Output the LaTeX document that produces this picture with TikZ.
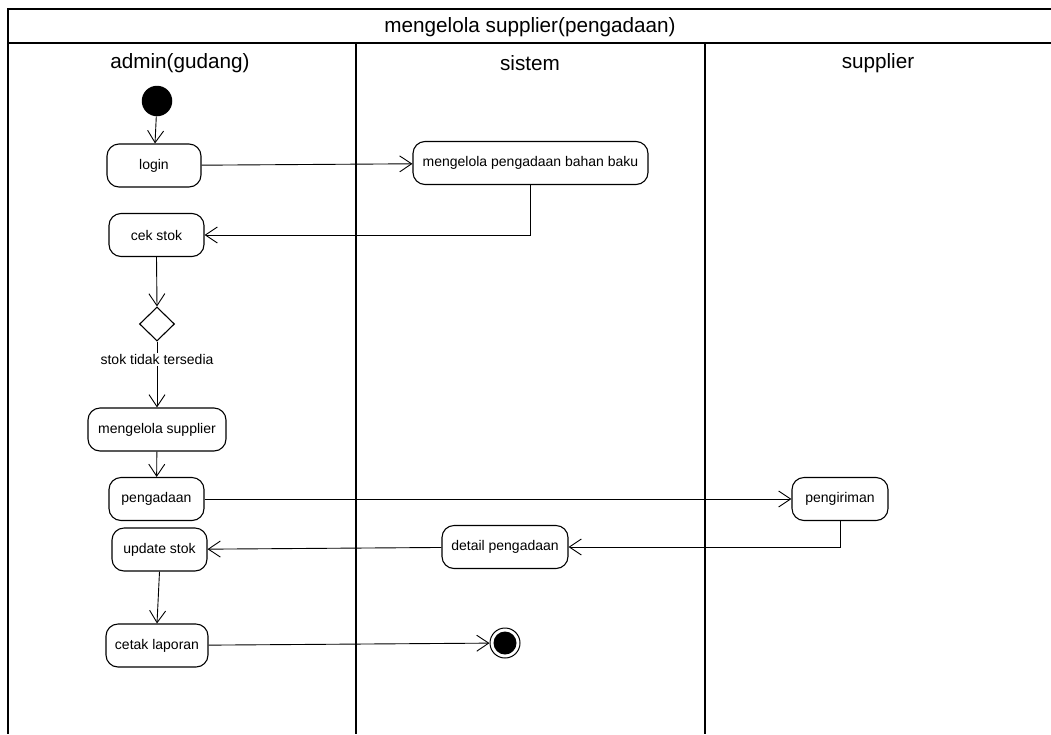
\documentclass[tikz,border=0pt]{standalone}
\usepackage{fontspec}
\setmainfont{Liberation Sans}
\usetikzlibrary{arrows.meta,shapes.geometric}
\begin{document}
\begin{tikzpicture}[x=1pt,y=-1pt,
  act/.style={draw, rounded corners=12pt, line width=1.1pt, minimum height=43pt,
    inner sep=0pt, font=\fontsize{14}{16}\selectfont},
  flow/.style={line width=0.9pt, -{Straight Barb[length=12pt,width=16pt,line width=0.9pt]}},
  lane/.style={line width=1.4pt},
  hdr/.style={font=\fontsize{20.7}{24}\selectfont, inner sep=0pt},
  lbl/.style={font=\fontsize{14}{16}\selectfont, fill=white, inner sep=1.5pt}]
\useasboundingbox (0,0) rectangle (1051,734);

% swimlane frame
\draw[lane] (1051,9) -- (8,9) -- (8,734);
\draw[lane] (8,43) -- (1051,43);
\draw[lane] (356,43) -- (356,734);
\draw[lane] (705,43) -- (705,734);
\node[hdr] (title) at (530,27) {mengelola supplier(pengadaan)};
\node[hdr] (laneA) at (180,63) {admin(gudang)};
\node[hdr] (laneB) at (530,63) {sistem};
\node[hdr] (laneC) at (878,63) {supplier};

% start / end
\node[circle, fill=black, minimum size=30.5pt, inner sep=0pt] (start) at (157,101) {};
\node[circle, draw, line width=1pt, minimum size=30pt, inner sep=0pt] (end) at (505,643) {};
\fill (end.center) circle (11.5);

% activities
\node[act, minimum width=94pt]  (login)  at (154,165.5) {login};
\node[act, minimum width=235pt] (mpbb)   at (530.5,163) {mengelola pengadaan bahan baku};
\node[act, minimum width=95pt]  (cek)    at (156.5,235) {cek stok};
\node[diamond, draw, line width=1.1pt, minimum width=35pt, minimum height=34pt, inner sep=0pt] (dec) at (157,324) {};
\node[act, minimum width=138pt] (msup)   at (157,429.5) {mengelola supplier};
\node[act, minimum width=95pt]  (pgd)    at (156.5,499) {pengadaan};
\node[act, minimum width=96pt]  (kirim)  at (840,499) {pengiriman};
\node[act, minimum width=126pt] (detail) at (505,547) {detail pengadaan};
\node[act, minimum width=95pt]  (upd)    at (159.5,549.5) {update stok};
\node[act, minimum width=102pt] (cetak)  at (157,645.5) {cetak laporan};

% flows
\draw[flow] (start) -- (login);
\draw[flow] (login) -- (mpbb);
\draw[flow] (mpbb.south) |- (cek.east);
\draw[flow] (cek.south) -- (dec.north);
\draw[flow] (dec.south) -- node[lbl, pos=0.27] (cond) {stok tidak tersedia} (msup.north);
\draw[flow] (msup) -- (pgd);
\draw[flow] (pgd) -- (kirim);
\draw[flow] (kirim.south) |- (detail.east);
\draw[flow] (detail) -- (upd);
\draw[flow] (upd.south) -- (cetak.north);
\draw[flow] (cetak) -- (end);
\end{tikzpicture}
\end{document}
